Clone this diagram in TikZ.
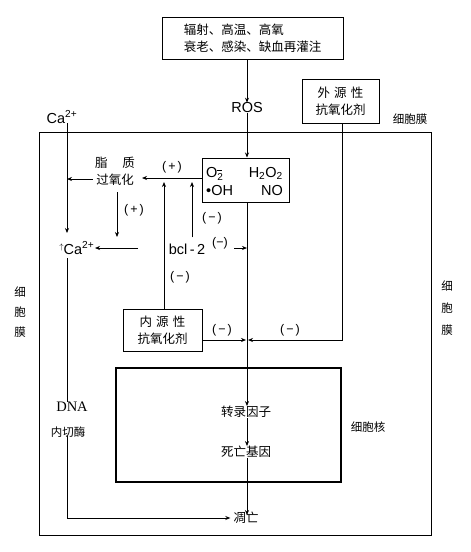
\documentclass[tikz,border=0pt]{standalone}
\usepackage{fontspec}
\setmainfont{Liberation Serif}
\newfontfamily\cjk{Noto Sans CJK SC}
\newfontfamily\hv{Liberation Sans}
\usetikzlibrary{arrows.meta}
\begin{document}
\begin{tikzpicture}[x=1pt,y=-1pt, >={Stealth[length=5pt,width=4pt]},
 box/.style={draw,line width=1pt,inner sep=0pt},
 cn/.style={font=\cjk\fontsize{12.5}{17}\selectfont, inner sep=0pt},
 cns/.style={font=\cjk\fontsize{11.5}{14}\selectfont, inner sep=0pt},
 lat/.style={font=\hv\fontsize{14.5}{17}\selectfont, inner sep=0pt},
 sign/.style={font=\hv\fontsize{12.5}{14}\selectfont, inner sep=0pt},
 ln/.style={line width=0.7pt}]
\useasboundingbox (0,0) rectangle (471,552);
% membrane
\draw[line width=0.9pt] (39,132) rectangle (431,535);
\node[cns] (memtop) at (410,119) {细胞膜};
\node[cns, align=center] (memL) at (20,312) {细\\[6pt]胞\\[6pt]膜};
\node[cns, align=center] (memR) at (447,308) {细\\[8pt]胞\\[8pt]膜};
% top
\node[box, cn, minimum width=181pt, minimum height=42pt, align=left] (src) at (252.5,38) {辐射、高温、高氧\\衰老、感染、缺血再灌注};
\node[lat] (ros) at (247,108) {ROS};
\node[box, cn, minimum width=77pt, minimum height=44pt, align=center] (ext) at (340.5,101) {外\,\,源\,\,性\\抗氧化剂};
% ROS box
\node[box, minimum width=87pt, minimum height=44pt] (rbox) at (245.5,180) {};
\node[lat, anchor=base west] (o2) at (206,177) {O\raisebox{-0.4ex}{\fontsize{10}{10}\selectfont 2}};
\draw[line width=1pt] ([xshift=-6.5pt,yshift=-4pt]o2.north east) -- ++(5,0);
\node[lat, anchor=base east] (h2o2) at (283,177) {H\textsubscript{2}O\textsubscript{2}};
\node[lat, anchor=base west] (oh) at (206,195) {•OH};
\node[lat, anchor=base east] (no) at (283,195) {NO};
% lipid peroxidation
\node[cn, align=center] (lip) at (115,171) {脂\hspace{1.2em}质\\过氧化};
\node[font=\hv\fontsize{14.5}{17}\selectfont, inner sep=0pt] (ca1) at (62,117) {Ca\textsuperscript{2+}};
\node[font=\hv\fontsize{14.5}{17}\selectfont, inner sep=0pt] (ca2) at (79,248) {\raisebox{0.6ex}{\fontsize{8}{8}\selectfont\makebox[0pt][r]{$\uparrow$}}Ca\textsuperscript{2+}};
\node[lat] (bcl) at (187,249) {bcl\,-\,2};
% internal antioxidant
\node[box, cn, minimum width=79pt, minimum height=42pt, align=center] (int) at (162.5,330) {内\,\,源\,\,性\\抗氧化剂};
% nucleus
\node[draw, line width=1.1pt, minimum width=225pt, minimum height=114pt, inner sep=0pt] (nuc) at (228.5,425) {};
\node[cns] (nuclab) at (368,427) {细胞核};
\node[cn] (tf) at (246,412) {转录因子};
\node[cn] (dg) at (246,452) {死亡基因};
\node[cn] (apo) at (246,518) {凋亡};
\node[font=\rmfamily\fontsize{14.5}{17}\selectfont, inner sep=0pt] (dna) at (72,407) {DNA};
\node[cns] (endo) at (68,432) {内切酶};
% signs
\node[sign] (s1) at (172,167) {(\,+\,)};
\node[sign] (s2) at (134,210) {(\,+\,)};
\node[sign] (s3) at (212,218) {(\,−\,)};
\node[sign] (s4) at (220,243) {(−)};
\node[sign] (s5) at (180,277) {(\,−\,)};
\node[sign] (s6) at (222,330) {(\,−\,)};
\node[sign] (s7) at (290,330) {(\,−\,)};
% coordinates on the main line
\coordinate (m1) at (247,248);
\coordinate (m2) at (247,340);
\coordinate (lipL) at (67,179);
\coordinate (lipH) at (142,178);
\coordinate (caE) at (95,248);
\coordinate (arrS) at (138,248);
\coordinate (bclS) at (234,248);
\coordinate (cor) at (67,518);
% connectors
\draw[ln,->] (src.south -| ros) -- (ros.north);
\draw[ln,->] (ros.south) -- (rbox.north -| ros);
\draw[ln,->] (rbox.south -| ros) -- (tf.north -| ros);
\draw[ln,->] (tf.south -| ros) -- (dg.north -| ros);
\draw[ln,->] (dg.south -| ros) -- ([yshift=-3pt]apo.north -| ros);
\draw[ln,->] (rbox.west |- lipH) -- (lipH);
\draw[ln,->] ([xshift=-2pt]lip.west |- lipL) -- (lipL);
\draw[ln,->] ([yshift=-7pt]lip.south) ++(2,0) coordinate (ld) -- (ld |- 0,237);
\draw[ln,->] (ca1.south -| lipL) -- (67,233);
\draw[ln] (67,258) -- (dna.north -| lipL);
\draw[ln,->] (endo.south -| lipL) ++(0,-2) -- (cor) -- ([xshift=-3pt]apo.west);
\draw[ln,->] (arrS) -- (caE);
\draw[ln,->] (bcl.north -| 192,0) ++(0,-6) -- (192,182);
\draw[ln,->] (int.north -| 164,0) -- (164,182);
\draw[ln,->] (bclS) -- (m1);
\draw[ln,->] (int.east |- m2) -- ([xshift=-1pt]m2);
\draw[ln,->] (ext.south -| 342,0) -- (342,340) -- ([xshift=1pt]m2);
\end{tikzpicture}
\end{document}
